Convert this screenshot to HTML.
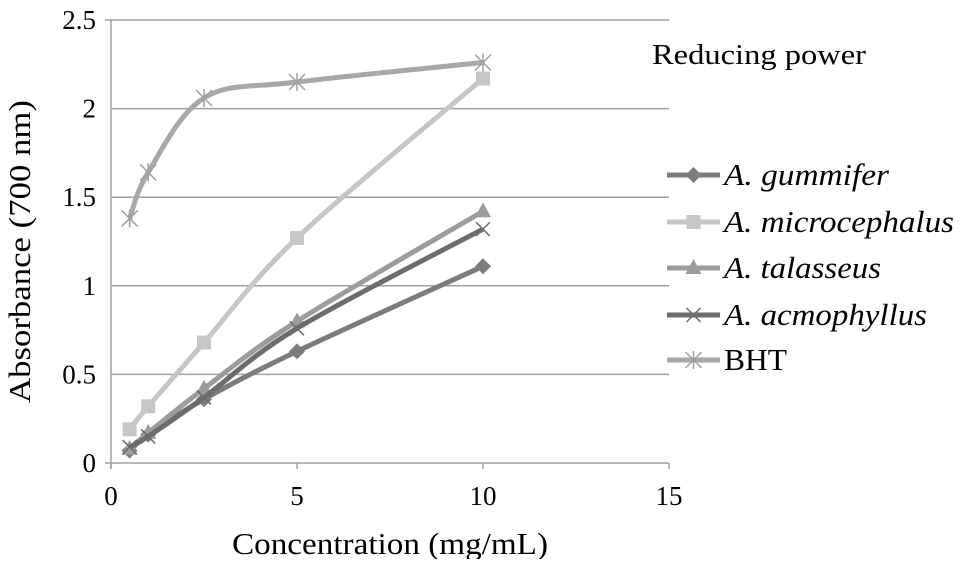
<!DOCTYPE html>
<html><head><meta charset="utf-8"><style>
body{margin:0;background:#fff;width:959px;height:559px;overflow:hidden}
text{font-family:"Liberation Serif",serif;fill:#000}
</style></head><body>
<svg id="chart" width="959" height="559" viewBox="0 0 959 559" xmlns="http://www.w3.org/2000/svg">
<g id="grid"></g>
<g id="axes"></g>
<g id="series"></g>
<g id="legend"></g>
<text x="652" y="64" font-size="29" textLength="214" lengthAdjust="spacingAndGlyphs">Reducing power</text>
<text x="232" y="554" font-size="31" textLength="316" lengthAdjust="spacingAndGlyphs">Concentration (mg/mL)</text>
<text transform="translate(30,403) rotate(-90)" font-size="31" textLength="303" lengthAdjust="spacingAndGlyphs">Absorbance (700 nm)</text>
</svg>
<script>
const xValues = [0.5, 1, 2.5, 5, 10];
const seriesNames = ["A. gummifer", "A. microcephalus", "A. talasseus", "A. acmophyllus", "BHT"];
const gummifer = [0.07, 0.16, 0.36, 0.63, 1.11];
const microcephalus = [0.19, 0.32, 0.68, 1.27, 2.17];
const talasseus = [0.08, 0.17, 0.42, 0.80, 1.42];
const acmophyllus = [0.09, 0.15, 0.37, 0.76, 1.32];
const bht = [1.38, 1.64, 2.06, 2.15, 2.26];
const yTicks = [0, 0.5, 1, 1.5, 2, 2.5];
const yTickLabels = ["0", "0.5", "1", "1.5", "2", "2.5"];
const xTicks = [0, 5, 10, 15];
const xTickLabels = ["0", "5", "10", "15"];

const NS = "http://www.w3.org/2000/svg";
const X0 = 111, X1 = 669, Y0 = 463, Y1 = 20;
const xs = v => X0 + (v - 0) / 15 * (X1 - X0);
const ys = v => Y0 - v / 2.5 * (Y0 - Y1);
function mk(tag, attrs, parent) { const e = document.createElementNS(NS, tag); for (const k in attrs) e.setAttribute(k, attrs[k]); parent.appendChild(e); return e; }
const grid = document.getElementById('grid'), axes = document.getElementById('axes'), ser = document.getElementById('series'), leg = document.getElementById('legend');

yTicks.forEach((t, i) => {
  if (t > 0) {
    const g = mk('line', {x1: X0, x2: X1, y1: ys(t), y2: ys(t), stroke: '#a0a0a0', 'stroke-width': 1.5}, grid);
    
    
  }
  const l = mk('text', {x: 96, y: ys(t) + 9, 'font-size': 27, 'text-anchor': 'end'}, axes);
  l.textContent = yTickLabels[i];
  
  
});
const ya = mk('line', {x1: X0, x2: X0, y1: Y1, y2: Y0 + 6, stroke: '#a0a0a0', 'stroke-width': 1.5}, axes);


const xa = mk('line', {x1: X0 - 6, x2: X1, y1: Y0, y2: Y0, stroke: '#a0a0a0', 'stroke-width': 1.5}, axes);


mk('line', {x1: X0 - 6, x2: X0, y1: Y1, y2: Y1, stroke: '#a0a0a0', 'stroke-width': 1.5}, axes);
xTicks.forEach((t, i) => {
  mk('line', {x1: xs(t), x2: xs(t), y1: Y0, y2: Y0 + 6, stroke: '#a0a0a0', 'stroke-width': 1.5}, axes);
  const l = mk('text', {x: xs(t), y: Y0 + 42, 'font-size': 27, 'text-anchor': 'middle'}, axes);
  l.textContent = xTickLabels[i];
  
  
});

function smoothPath(pts) {
  let d = `M${pts[0][0]},${pts[0][1]}`;
  for (let i = 0; i < pts.length - 1; i++) {
    const p0 = pts[i - 1] || pts[i], p1 = pts[i], p2 = pts[i + 1], p3 = pts[i + 2] || p2;
    const t = 1/6;
    const c1 = [p1[0] + (p2[0] - p0[0]) * t, p1[1] + (p2[1] - p0[1]) * t];
    const c2 = [p2[0] - (p3[0] - p1[0]) * t, p2[1] - (p3[1] - p1[1]) * t];
    d += ` C${c1[0]},${c1[1]} ${c2[0]},${c2[1]} ${p2[0]},${p2[1]}`;
  }
  return d;
}
function marker(type, x, y, color, parent) {
  let e;
  if (type === 'diamond') e = mk('polygon', {points: `${x},${y-8} ${x+8},${y} ${x},${y+8} ${x-8},${y}`, fill: color}, parent);
  else if (type === 'square') e = mk('rect', {x: x-7, y: y-7, width: 14, height: 14, fill: color}, parent);
  else if (type === 'triangle') e = mk('polygon', {points: `${x},${y-9} ${x+8},${y+6} ${x-8},${y+6}`, fill: color}, parent);
  else if (type === 'x') e = mk('path', {d: `M${x-7},${y-7}L${x+7},${y+7}M${x+7},${y-7}L${x-7},${y+7}`, stroke: color, 'stroke-width': 1.5, fill: 'none'}, parent);
  else e = mk('path', {d: `M${x-8},${y-8}L${x+8},${y+8}M${x+8},${y-8}L${x-8},${y+8}M${x},${y-9}L${x},${y+9}`, stroke: color, 'stroke-width': 1.5, fill: 'none'}, parent);
  return e;
}
const allSeries = [gummifer, microcephalus, talasseus, acmophyllus, bht];
const colors = ['#7c7c7c', '#c6c6c6', '#9c9c9c', '#6c6c6c', '#a8a8a8'];
const mcolors = ['#7c7c7c', '#c6c6c6', '#9c9c9c', '#6c6c6c', '#a0a0a0'];
const markers = ['diamond', 'square', 'triangle', 'x', 'star'];
const legY = [175, 222, 268, 315, 360];
const legW = [165, 230, 157, 203, 63];
const order = [1, 4, 0, 2, 3];
order.forEach(si => {
  const vals = allSeries[si];
  const g = mk('g', {}, ser);
  
  
  const pts = xValues.map((xv, i) => [xs(xv), ys(vals[i])]);
  mk('path', {d: smoothPath(pts), stroke: colors[si], 'stroke-width': 5, fill: 'none', 'stroke-linejoin': 'round'}, g);
  pts.forEach(p => {
    const m = marker(markers[si], p[0], p[1], mcolors[si], g);
    
    
  });
});
seriesNames.forEach((n, si) => {
  const g = mk('g', {}, leg);
  
  
  const y = legY[si];
  mk('line', {x1: 667, x2: 720, y1: y, y2: y, stroke: colors[si], 'stroke-width': 5}, g);
  marker(markers[si], 693.5, y, mcolors[si], g);
  const t = mk('text', {x: 724, y: y + 10, 'font-size': 31, textLength: legW[si], lengthAdjust: 'spacingAndGlyphs'}, g);
  if (n.startsWith('A.')) t.setAttribute('font-style', 'italic');
  t.textContent = n;
});
</script>
</body></html>
